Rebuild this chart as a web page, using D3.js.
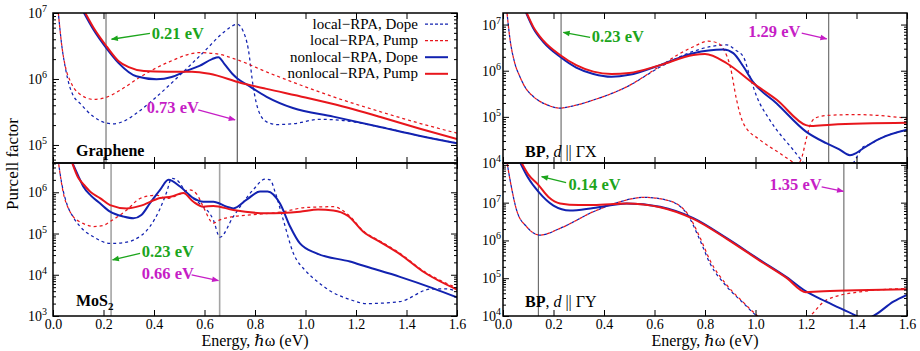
<!DOCTYPE html>
<html><head><meta charset="utf-8">
<script src="https://cdn.jsdelivr.net/npm/d3@7"></script>
<style>
body{margin:0;background:#fff}
svg{display:block}
svg text{font-family:"Liberation Serif","DejaVu Serif","Noto Serif",serif}
</style>
</head><body><svg id="c" width="920" height="351"></svg>
<script>
// ---------- data: [energy (eV), Purcell factor] ----------
const energyTicks = [0, 0.2, 0.4, 0.6, 0.8, 1.0, 1.2, 1.4, 1.6];
const legendLabels = ["local\u2212RPA, Dope", "local\u2212RPA, Pump", "nonlocal\u2212RPA, Dope", "nonlocal\u2212RPA, Pump"];

const grapheneLocalDope = [[0.02,1.12e7],[0.035,3.16e6],[0.05,1.41e6],[0.065,7.94e5],[0.08,5.62e5],[0.107,4.27e5],[0.16,2.69e5],[0.213,2.14e5],[0.24,2.09e5],[0.28,2.29e5],[0.33,3.02e5],[0.41,5.37e5],[0.5,1.12e6],[0.6,2.63e6],[0.68,5.25e6],[0.73,6.76e6],[0.75,5.62e6],[0.774,2.75e6],[0.793,7.59e5],[0.813,3.39e5],[0.846,2.24e5],[0.886,2.04e5],[0.95,2.09e5],[1.057,2.45e5],[1.15,2.34e5],[1.3,1.86e5],[1.45,1.38e5],[1.6,1.07e5]];
const grapheneLocalPump = [[0.02,1.12e7],[0.035,3.16e6],[0.05,1.48e6],[0.067,9.55e5],[0.085,7.08e5],[0.107,5.89e5],[0.16,4.9e5],[0.21,5.25e5],[0.27,6.92e5],[0.345,1.07e6],[0.46,1.82e6],[0.58,2.51e6],[0.65,2.4e6],[0.73,1.95e6],[0.85,1.26e6],[1.0,7.59e5],[1.11,5.37e5],[1.3,3.16e5],[1.45,2.14e5],[1.6,1.51e5]];
const grapheneNonlocalDope = [[0.12,1.05e7],[0.16,5.62e6],[0.213,2.88e6],[0.26,1.74e6],[0.33,1.1e6],[0.41,9.9e5],[0.47,1.07e6],[0.52,1.29e6],[0.58,1.58e6],[0.63,2.0e6],[0.655,2.14e6],[0.68,1.66e6],[0.71,1.2e6],[0.73,1.02e6],[0.77,8.13e5],[0.846,5.37e5],[0.95,3.63e5],[1.11,2.69e5],[1.3,1.86e5],[1.45,1.38e5],[1.6,1.06e5]];
const grapheneNonlocalPump = [[0.125,1.05e7],[0.16,6.03e6],[0.213,3.09e6],[0.26,1.86e6],[0.3,1.51e6],[0.36,1.32e6],[0.45,1.29e6],[0.55,1.29e6],[0.62,1.2e6],[0.745,8.71e5],[0.846,7.08e5],[1.0,5.25e5],[1.11,4.17e5],[1.3,2.63e5],[1.45,1.78e5],[1.6,1.23e5]];

const mos2LocalDope = [[0.021,5.62e6],[0.035,1.58e6],[0.054,5.43e5],[0.08,2.51e5],[0.107,1.48e5],[0.16,8.32e4],[0.226,5.75e4],[0.28,6.03e4],[0.318,6.92e4],[0.384,1.48e5],[0.42,3.55e5],[0.45,1.0e6],[0.47,2.19e6],[0.49,2.0e6],[0.53,9.55e5],[0.58,5.37e5],[0.635,2.14e5],[0.661,8.13e4],[0.714,2.57e5],[0.793,1.15e6],[0.84,2.09e6],[0.86,2.0e6],[0.88,1.0e6],[0.912,2.14e5],[0.952,3.31e4],[1.0,1.26e4],[1.044,7.08e3],[1.1,3.98e3],[1.176,2.51e3],[1.24,2.0e3],[1.374,2.24e3],[1.493,4.47e3],[1.55,4.57e3],[1.6,3.98e3]];
const mos2LocalPump = [[0.021,5.62e6],[0.041,9.55e5],[0.06,4.17e5],[0.08,2.57e5],[0.107,1.91e5],[0.133,1.62e5],[0.16,1.48e5],[0.2,1.58e5],[0.226,1.95e5],[0.292,3.72e5],[0.345,7.08e5],[0.41,8.51e5],[0.45,7.08e5],[0.5,8.91e5],[0.54,1.15e6],[0.57,8.91e5],[0.595,4.47e5],[0.635,1.78e5],[0.661,2.14e5],[0.714,2.57e5],[0.78,2.82e5],[0.912,3.39e5],[1.0,4.27e5],[1.11,4.47e5],[1.17,2.82e5],[1.229,1.15e5],[1.3,6.31e4],[1.374,3.31e4],[1.465,1.26e4],[1.6,4.79e3]];
const mos2NonlocalDope = [[0.074,5.62e6],[0.1,2.51e6],[0.12,1.38e6],[0.15,8.32e5],[0.186,5.43e5],[0.226,3.39e5],[0.28,2.57e5],[0.318,2.34e5],[0.35,2.82e5],[0.384,5.43e5],[0.424,1.15e6],[0.457,2.0e6],[0.503,1.38e6],[0.556,7.24e5],[0.595,5.89e5],[0.635,5.89e5],[0.688,4.47e5],[0.714,4.07e5],[0.767,6.61e5],[0.82,1.05e6],[0.85,1.05e6],[0.899,5.37e5],[0.939,1.48e5],[0.978,5.75e4],[1.044,3.31e4],[1.176,2.09e4],[1.24,1.58e4],[1.374,8.91e3],[1.506,4.68e3],[1.6,2.82e3]];
const mos2NonlocalPump = [[0.074,5.62e6],[0.1,2.24e6],[0.12,1.58e6],[0.15,1.0e6],[0.186,7.24e5],[0.226,4.9e5],[0.292,4.07e5],[0.345,4.68e5],[0.424,7.24e5],[0.47,7.94e5],[0.516,9.55e5],[0.556,5.89e5],[0.595,4.47e5],[0.635,4.68e5],[0.714,3.72e5],[0.846,3.09e5],[0.978,3.39e5],[1.05,3.8e5],[1.11,3.63e5],[1.17,2.63e5],[1.229,1.1e5],[1.3,6.03e4],[1.374,3.16e4],[1.465,1.2e4],[1.6,4.37e3]];

const bpxLocalDope = [[0.015,2.0e7],[0.028,4.68e6],[0.045,1.58e6],[0.067,7.41e5],[0.09,4.17e5],[0.12,2.75e5],[0.17,1.86e5],[0.226,1.55e5],[0.28,1.74e5],[0.358,2.32e5],[0.49,4.47e5],[0.622,1.2e6],[0.7,2.0e6],[0.754,2.63e6],[0.82,3.31e6],[0.886,3.63e6],[0.92,2.82e6],[0.952,2.0e6],[0.978,7.41e5],[1.005,2.75e5],[1.057,8.51e4],[1.15,1.91e4],[1.2,8.91e3],[1.3,5.01e3],[1.387,1.0e4],[1.427,2.24e4],[1.45,2.51e4],[1.493,3.39e4],[1.6,5.25e4]];
const bpxLocalPump = [[0.015,2.0e7],[0.028,4.68e6],[0.045,1.58e6],[0.067,7.41e5],[0.09,4.17e5],[0.12,2.75e5],[0.17,1.86e5],[0.226,1.55e5],[0.28,1.74e5],[0.358,2.32e5],[0.49,4.47e5],[0.622,1.26e6],[0.7,2.34e6],[0.754,3.31e6],[0.813,4.37e6],[0.85,3.98e6],[0.875,2.82e6],[0.9,1.23e6],[0.925,2.34e5],[0.952,7.24e4],[1.018,3.16e4],[1.097,1.62e4],[1.14,1.12e4],[1.165,9.3e3],[1.185,1.41e4],[1.2,3.16e4],[1.215,6.31e4],[1.235,9.33e4],[1.28,1.07e5],[1.4,1.12e5],[1.6,9.33e4]];
const bpxNonlocalDope = [[0.088,2.0e7],[0.12,8.32e6],[0.16,4.17e6],[0.226,2.0e6],[0.29,1.17e6],[0.358,8.51e5],[0.43,7.41e5],[0.5,8.13e5],[0.622,1.32e6],[0.754,2.4e6],[0.873,2.88e6],[0.912,2.4e6],[0.952,1.23e6],[0.99,5.75e5],[1.084,1.95e5],[1.2,4.79e4],[1.28,2.69e4],[1.33,2.0e4],[1.374,1.48e4],[1.4,1.66e4],[1.427,2.09e4],[1.493,3.39e4],[1.6,5.25e4]];
const bpxNonlocalPump = [[0.09,2.0e7],[0.12,8.91e6],[0.16,4.47e6],[0.226,2.19e6],[0.29,1.32e6],[0.358,9.55e5],[0.43,8.51e5],[0.5,8.91e5],[0.622,1.32e6],[0.754,2.19e6],[0.8,2.29e6],[0.886,1.45e6],[0.99,5.37e5],[1.084,2.34e5],[1.2,6.61e4],[1.22,6.31e4],[1.3,6.76e4],[1.6,7.41e4]];

const bpyLocalDope = [[0.015,1.26e8],[0.028,3.98e7],[0.054,6.31e6],[0.094,2.29e6],[0.147,1.38e6],[0.226,2.09e6],[0.358,5.75e6],[0.463,1.05e7],[0.556,1.38e7],[0.648,1.17e7],[0.727,5.25e6],[0.78,1.02e6],[0.82,2.45e5],[0.886,6.03e4],[0.952,2.19e4],[1.005,1.0e4],[1.05,6.31e3]];
const bpyLocalPump = [[0.015,1.26e8],[0.028,3.98e7],[0.054,6.31e6],[0.094,2.29e6],[0.147,1.38e6],[0.226,2.09e6],[0.358,5.75e6],[0.463,1.05e7],[0.556,1.38e7],[0.648,1.17e7],[0.727,5.5e6],[0.78,1.2e6],[0.82,2.95e5],[0.886,6.61e4],[0.952,2.29e4],[1.005,1.05e4],[1.08,5.01e3],[1.15,4.47e3],[1.216,1.0e4],[1.28,2.63e4],[1.414,4.37e4],[1.6,5.37e4]];
const bpyNonlocalDope = [[0.065,1.26e8],[0.1,4.47e7],[0.14,1.95e7],[0.2,8.32e6],[0.265,6.17e6],[0.358,7.24e6],[0.49,9.55e6],[0.622,7.76e6],[0.754,3.89e6],[0.886,1.15e6],[1.018,3.02e5],[1.123,1.07e5],[1.2,4.47e4],[1.28,2.4e4],[1.4,1.0e4],[1.43,7.94e3],[1.467,1.0e4],[1.546,2.4e4],[1.6,3.63e4]];
const bpyNonlocalPump = [[0.07,1.26e8],[0.1,5.62e7],[0.14,2.95e7],[0.18,1.41e7],[0.226,9.55e6],[0.3,8.71e6],[0.358,8.71e6],[0.49,9.55e6],[0.622,7.59e6],[0.754,3.72e6],[0.886,1.1e6],[1.018,2.88e5],[1.123,1.02e5],[1.2,4.27e4],[1.25,4.47e4],[1.4,4.79e4],[1.6,5.13e4]];

// ---------- style ----------
const BLUE = "#1222b0", RED = "#e8161c", GREEN = "#1ca51c", MAG = "#c61ec6";
const svg = d3.select("#c");

const seriesStyle = [
  {color: BLUE, dashed: true, off: 0},
  {color: RED, dashed: true, off: 3},
  {color: BLUE, dashed: false},
  {color: RED, dashed: false}
];

const panels = [
  {id: "g", x0: 53, x1: 457, y0: 13, y1: 163, ydom: [5.33e4, 1e7], ylab: [1e5, 1e6, 1e7], labGap: 6, xlab: false,
   series: [grapheneLocalDope, grapheneLocalPump, grapheneNonlocalDope, grapheneNonlocalPump],
   vlines: [{e: 0.21, c: "#a4a4a4", w: 1.8}, {e: 0.73, c: "#6a6a6a", w: 1.3}],
   notes: [{t: "0.21 eV", c: GREEN, at: [0.391, 4.0e6], from: [0.384, 4.9e6], to: [0.232, 4.0e6]},
           {t: "0.73 eV", c: MAG, at: [0.371, 3.0e5], from: [0.575, 3.4e5], to: [0.721, 2.4e5]}],
   title: {kind: "graphene", at: [0.091, 6.8e4]}, legend: true},
  {id: "m", x0: 53, x1: 457, y0: 163, y1: 316, ydom: [1e3, 5.13e6], ylab: [1e3, 1e4, 1e5, 1e6], labGap: 6, xlab: true,
   series: [mos2LocalDope, mos2LocalPump, mos2NonlocalDope, mos2NonlocalPump],
   vlines: [{e: 0.23, c: "#a4a4a4", w: 1.6}, {e: 0.66, c: "#a4a4a4", w: 1.6}],
   notes: [{t: "0.23 eV", c: GREEN, at: [0.351, 2.75e4], from: [0.345, 3.3e4], to: [0.236, 2.3e4]},
           {t: "0.66 eV", c: MAG, at: [0.351, 7.8e3], from: [0.549, 1.0e4], to: [0.655, 7.2e3]}],
   title: {kind: "mos2", at: [0.091, 1.7e3]}},
  {id: "x", x0: 503, x1: 907, y0: 13, y1: 163, ydom: [1e4, 1.78e7], ylab: [1e4, 1e5, 1e6, 1e7], labGap: 2, xlab: false,
   series: [bpxLocalDope, bpxLocalPump, bpxNonlocalDope, bpxNonlocalPump],
   vlines: [{e: 0.23, c: "#555", w: 1}, {e: 1.29, c: "#555", w: 1}],
   notes: [{t: "0.23 eV", c: GREEN, at: [0.351, 4.1e6], from: [0.345, 5.3e6], to: [0.239, 6.8e6]},
           {t: "1.29 eV", c: MAG, at: [0.971, 5.3e6], from: [1.183, 6.5e6], to: [1.282, 4.9e6]}],
   title: {kind: "bp", dir: "\u0393X", at: [0.087, 1.37e4]}},
  {id: "y", x0: 503, x1: 907, y0: 163, y1: 316, ydom: [1e4, 1.12e8], ylab: [1e4, 1e5, 1e6, 1e7], labGap: 2, xlab: true,
   series: [bpyLocalDope, bpyLocalPump, bpyNonlocalDope, bpyNonlocalPump],
   vlines: [{e: 0.14, c: "#555", w: 1}, {e: 1.35, c: "#555", w: 1}],
   notes: [{t: "0.14 eV", c: GREEN, at: [0.259, 2.2e7], from: [0.25, 3.4e7], to: [0.153, 4.9e7]},
           {t: "1.35 eV", c: MAG, at: [1.055, 2.2e7], from: [1.262, 2.6e7], to: [1.348, 2.0e7]}],
   title: {kind: "bp", dir: "\u0393Y", at: [0.087, 1.77e4]}}
];

// arrow markers
const defs = svg.append("defs");
[["g", GREEN], ["m", MAG]].forEach(([k, c]) => {
  defs.append("marker").attr("id", "ah" + k).attr("viewBox", "0 0 10 10").attr("refX", 9).attr("refY", 5)
    .attr("markerWidth", 9).attr("markerHeight", 7).attr("markerUnits", "userSpaceOnUse").attr("orient", "auto")
    .append("path").attr("d", "M0,1 L10,5 L0,9 Z").attr("fill", c);
});

function drawPanel(p) {
  const x = d3.scaleLinear().domain([0, 1.6]).range([p.x0, p.x1]);
  const y = d3.scaleLog().domain(p.ydom).range([p.y1, p.y0]);
  const g = svg.append("g");
  defs.append("clipPath").attr("id", "clip" + p.id).append("rect")
    .attr("x", p.x0).attr("y", p.y0).attr("width", p.x1 - p.x0).attr("height", p.y1 - p.y0);

  p.vlines.forEach(v => g.append("line").attr("x1", x(v.e)).attr("x2", x(v.e)).attr("y1", p.y0).attr("y2", p.y1)
    .attr("stroke", v.c).attr("stroke-width", v.w));

  const line = d3.line().x(d => x(d[0])).y(d => y(d[1])).curve(d3.curveMonotoneX);
  const cg = g.append("g").attr("clip-path", `url(#clip${p.id})`);
  p.series.forEach((s, i) => {
    const st = seriesStyle[i];
    cg.append("path").attr("d", line(s)).attr("fill", "none").attr("stroke", st.color)
      .attr("stroke-width", st.dashed ? 1.25 : 2).attr("stroke-linejoin", "round")
      .attr("stroke-dasharray", st.dashed ? "3,3" : null).attr("stroke-dashoffset", st.dashed ? st.off : null);
  });

  const lo = Math.floor(Math.log10(p.ydom[0])), hi = Math.ceil(Math.log10(p.ydom[1]));
  const major = [], minor = [];
  for (let d = lo; d <= hi; d++) {
    const v = Math.pow(10, d);
    if (v >= p.ydom[0] * 0.999 && v <= p.ydom[1] * 1.001) major.push(v);
    for (let m = 2; m <= 9; m++) { const w = m * v; if (w > p.ydom[0] && w < p.ydom[1]) minor.push(w); }
  }
  const ax = g.append("g").attr("stroke-width", 1);
  const strip = sel => { sel.select(".domain").remove(); sel.selectAll("text").remove(); };
  ax.append("g").attr("transform", `translate(${p.x0},0)`).call(d3.axisLeft(y).tickValues(major).tickSize(-6)).call(strip);
  ax.append("g").attr("transform", `translate(${p.x0},0)`).call(d3.axisLeft(y).tickValues(minor).tickSize(-3)).call(strip);
  ax.append("g").attr("transform", `translate(${p.x1},0)`).call(d3.axisRight(y).tickValues(major).tickSize(-6)).call(strip);
  ax.append("g").attr("transform", `translate(${p.x1},0)`).call(d3.axisRight(y).tickValues(minor).tickSize(-3)).call(strip);
  ax.append("g").attr("transform", `translate(0,${p.y0})`).call(d3.axisTop(x).tickValues(energyTicks).tickSize(-6)).call(strip);
  const bx = ax.append("g").attr("transform", `translate(0,${p.y1})`)
    .call(d3.axisBottom(x).tickValues(energyTicks).tickSize(-6).tickPadding(3.5).tickFormat(d3.format(".1f")));
  bx.select(".domain").remove();
  bx.attr("font-family", null);
  if (!p.xlab) bx.selectAll("text").remove();
  else bx.selectAll("text").attr("font-size", 14).attr("fill", "#000");

  p.ylab.forEach(v => {
    const t = g.append("text").attr("x", p.x0 - p.labGap).attr("y", y(v) + 5).attr("text-anchor", "end")
      .attr("font-size", 14);
    t.append("tspan").text("10");
    t.append("tspan").attr("dy", -6).attr("font-size", 10).text(Math.round(Math.log10(v)));
  });

  g.append("rect").attr("x", p.x0).attr("y", p.y0).attr("width", p.x1 - p.x0).attr("height", p.y1 - p.y0)
    .attr("fill", "none").attr("stroke", "#000").attr("stroke-width", 1.5);

  p.notes.forEach(n => {
    g.append("line").attr("x1", x(n.from[0])).attr("y1", y(n.from[1])).attr("x2", x(n.to[0])).attr("y2", y(n.to[1]))
      .attr("stroke", n.c).attr("stroke-width", 1.3).attr("marker-end", `url(#ah${n.c === GREEN ? "g" : "m"})`);
    g.append("text").attr("x", x(n.at[0])).attr("y", y(n.at[1])).attr("fill", n.c)
      .attr("font-weight", "bold").attr("font-size", 16.5).text(n.t);
  });

  const tt = g.append("text").attr("x", x(p.title.at[0])).attr("y", y(p.title.at[1]))
    .attr("font-size", 16).attr("fill", "#000");
  if (p.title.kind === "graphene") tt.attr("font-weight", "bold").text("Graphene");
  else if (p.title.kind === "mos2") {
    tt.append("tspan").attr("font-weight", "bold").text("MoS");
    tt.append("tspan").attr("font-weight", "bold").attr("font-size", 11).attr("dy", 4).text("2");
  } else {
    tt.append("tspan").attr("font-weight", "bold").text("BP");
    tt.append("tspan").text(", ");
    tt.append("tspan").attr("font-style", "italic").text("d");
    tt.append("tspan").text(" || " + p.title.dir);
  }

  if (p.xlab) {
    const xt = svg.append("text").attr("x", (p.x0 + p.x1) / 2).attr("y", 345.5).attr("text-anchor", "middle")
      .attr("font-size", 16);
    xt.append("tspan").text("Energy, ");
    xt.append("tspan").attr("font-style", "italic").text("\u210F");
    xt.append("tspan").text("\u03C9 (eV)");
  }

  if (p.legend) {
    legendLabels.forEach((lab, i) => {
      const by = 28.5 + i * 16.6;
      g.append("text").attr("x", 418).attr("y", by).attr("text-anchor", "end").attr("font-size", 15).text(lab);
      const st = seriesStyle[i];
      g.append("line").attr("x1", 425).attr("x2", 448).attr("y1", by - 4.5).attr("y2", by - 4.5)
        .attr("stroke", st.color).attr("stroke-width", st.dashed ? 1.25 : 2)
        .attr("stroke-dasharray", st.dashed ? "3,2" : null);
    });
  }
}

panels.forEach(drawPanel);

svg.append("text").attr("transform", "translate(18,164) rotate(-90)").attr("text-anchor", "middle")
  .attr("font-size", 17).text("Purcell factor");
</script>
</body></html>
